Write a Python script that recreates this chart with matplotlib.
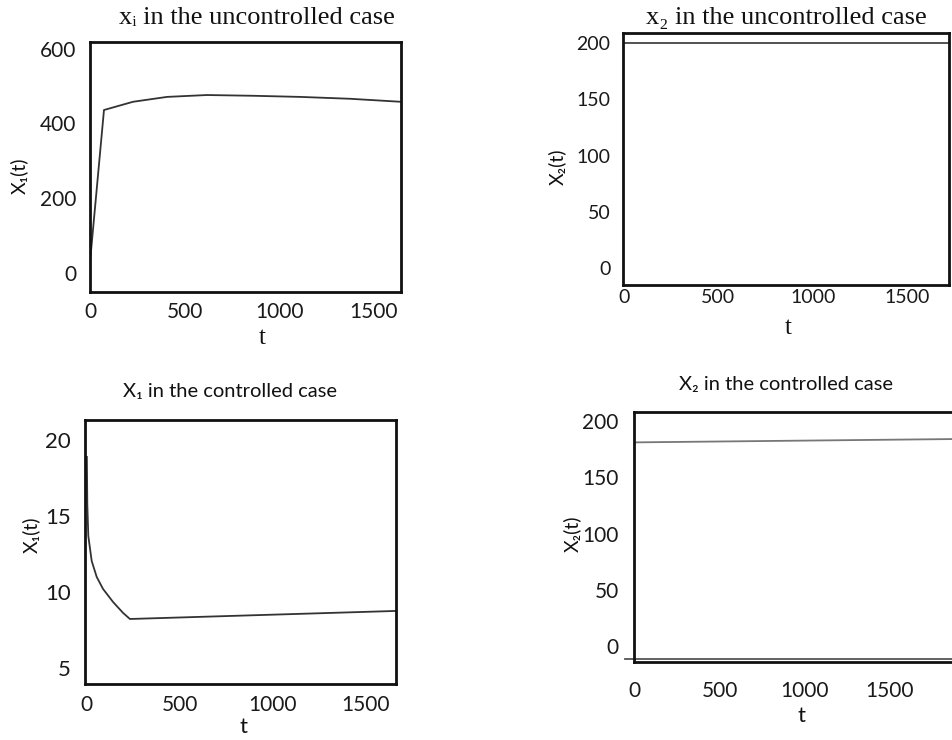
import matplotlib
matplotlib.use("Agg")
import matplotlib.pyplot as plt

W, H = 953, 740
DPI = 100

# ---------------- data ----------------
# Panel 1: x1 uncontrolled
t_x1_unc = [0, 71, 225, 405, 616, 860, 1108, 1373, 1640]
x1_unc = [46, 436, 458, 471, 476, 474, 471, 466, 458]

# Panel 2: x2 uncontrolled
t_x2_unc = [0, 1720]
x2_unc = [200, 200]

# Panel 3: x1 controlled
t_x1_con = [0, 2.4, 7.8, 26, 53, 87, 141, 195, 232, 1665]
x1_con = [18.87, 15.78, 13.67, 12.02, 10.97, 10.18, 9.32, 8.60, 8.20, 8.73]

# Panel 4: x2 controlled (two traces)
t_x2_con = [0, 1900]
x2_con = [181, 184]
t_x2_base = [-55, 1900]
x2_base = [-11.5, -11.5]

x_ticks = [0, 500, 1000, 1500]
y_ticks_p1 = [0, 200, 400, 600]
y_ticks_p2 = [0, 50, 100, 150, 200]
y_ticks_p3 = [5, 10, 15, 20]
y_ticks_p4 = [0, 50, 100, 150, 200]

SANS = ['Lato', 'DejaVu Sans']
SERIF = ['Liberation Serif', 'DejaVu Serif']

fig = plt.figure(figsize=(W / DPI, H / DPI), dpi=DPI)
fig.patch.set_facecolor('white')


def px_axes(left, top, right, bottom):
    return fig.add_axes([left / W, 1 - bottom / H, (right - left) / W, (bottom - top) / H])


def fx(x):
    return x / W


def fy(y):
    return 1 - y / H


def style(ax, xlim, ylim, yticks, xpad, ypad, tick_size=15):
    ax.set_xlim(*xlim)
    ax.set_ylim(*ylim)
    ax.set_xticks(x_ticks)
    ax.set_yticks(yticks)
    ax.tick_params(length=0, labelsize=tick_size, colors='#1a1a1a')
    ax.tick_params(axis='x', pad=xpad)
    ax.tick_params(axis='y', pad=ypad)
    for lab in ax.get_xticklabels() + ax.get_yticklabels():
        lab.set_family(SANS)
    for sp in ax.spines.values():
        sp.set_linewidth(2.0)
        sp.set_color('#111111')


# Panel 1
ax1 = px_axes(90, 42, 401, 292)
ax1.plot(t_x1_unc, x1_unc, color='#333333', lw=1.3)
style(ax1, (-3, 1643), (-50, 617.6), y_ticks_p1, xpad=7, ypad=10)
fig.text(fx(257), fy(18), 'xᵢ in the uncontrolled case', family=SERIF, fontsize=19,
         ha='center', va='center', color='#111111')
fig.text(fx(19), fy(176), 'X₁(t)', family=SANS, fontsize=14, rotation=90,
         ha='center', va='center', color='#111111')
fig.text(fx(262), fy(338), 't', family=SERIF, fontsize=18, ha='center', va='center', color='#111111')

# Panel 2
ax2 = px_axes(623, 33, 949, 285)
ax2.plot(t_x2_unc, x2_unc, color='#444444', lw=1.3)
style(ax2, (-5, 1720), (-15.1, 208.9), y_ticks_p2, xpad=3, ypad=9, tick_size=14)
fig.text(fx(786), fy(18), 'x₂ in the uncontrolled case', family=SERIF, fontsize=19,
         ha='center', va='center', color='#111111')
fig.text(fx(557), fy(167), 'X₂(t)', family=SANS, fontsize=14, rotation=90,
         ha='center', va='center', color='#111111')
fig.text(fx(788), fy(328), 't', family=SERIF, fontsize=18, ha='center', va='center', color='#111111')

# Panel 3
ax3 = px_axes(85, 420, 396, 684)
ax3.plot(t_x1_con, x1_con, color='#333333', lw=1.3)
style(ax3, (-10, 1665), (3.92, 21.3), y_ticks_p3, xpad=8, ypad=10)
ax3.tick_params(axis='y', labelsize=16)
fig.text(fx(230), fy(391), 'X₁ in the controlled case', family=SANS, fontsize=14.5,
         ha='center', va='center', color='#111111')
fig.text(fx(31), fy(535), 'X₁(t)', family=SANS, fontsize=14, rotation=90,
         ha='center', va='center', color='#111111')
fig.text(fx(244), fy(727), 't', family=SANS, fontsize=16, ha='center', va='center', color='#111111')

# Panel 4
ax4 = px_axes(634, 412, 958, 662)
ax4.plot(t_x2_con, x2_con, color='#777777', lw=1.3)
ax4.plot(t_x2_base, x2_base, color='#555555', lw=1.3, clip_on=False)
style(ax4, (-2, 1900), (-14.2, 208), y_ticks_p4, xpad=14, ypad=11)
fig.text(fx(786), fy(385), 'X₂ in the controlled case', family=SANS, fontsize=14.5,
         ha='center', va='center', color='#111111')
fig.text(fx(572), fy(534), 'X₂(t)', family=SANS, fontsize=14, rotation=90,
         ha='center', va='center', color='#111111')
fig.text(fx(802), fy(716), 't', family=SANS, fontsize=16, ha='center', va='center', color='#111111')

fig.savefig('out.png', dpi=DPI, facecolor='white')
